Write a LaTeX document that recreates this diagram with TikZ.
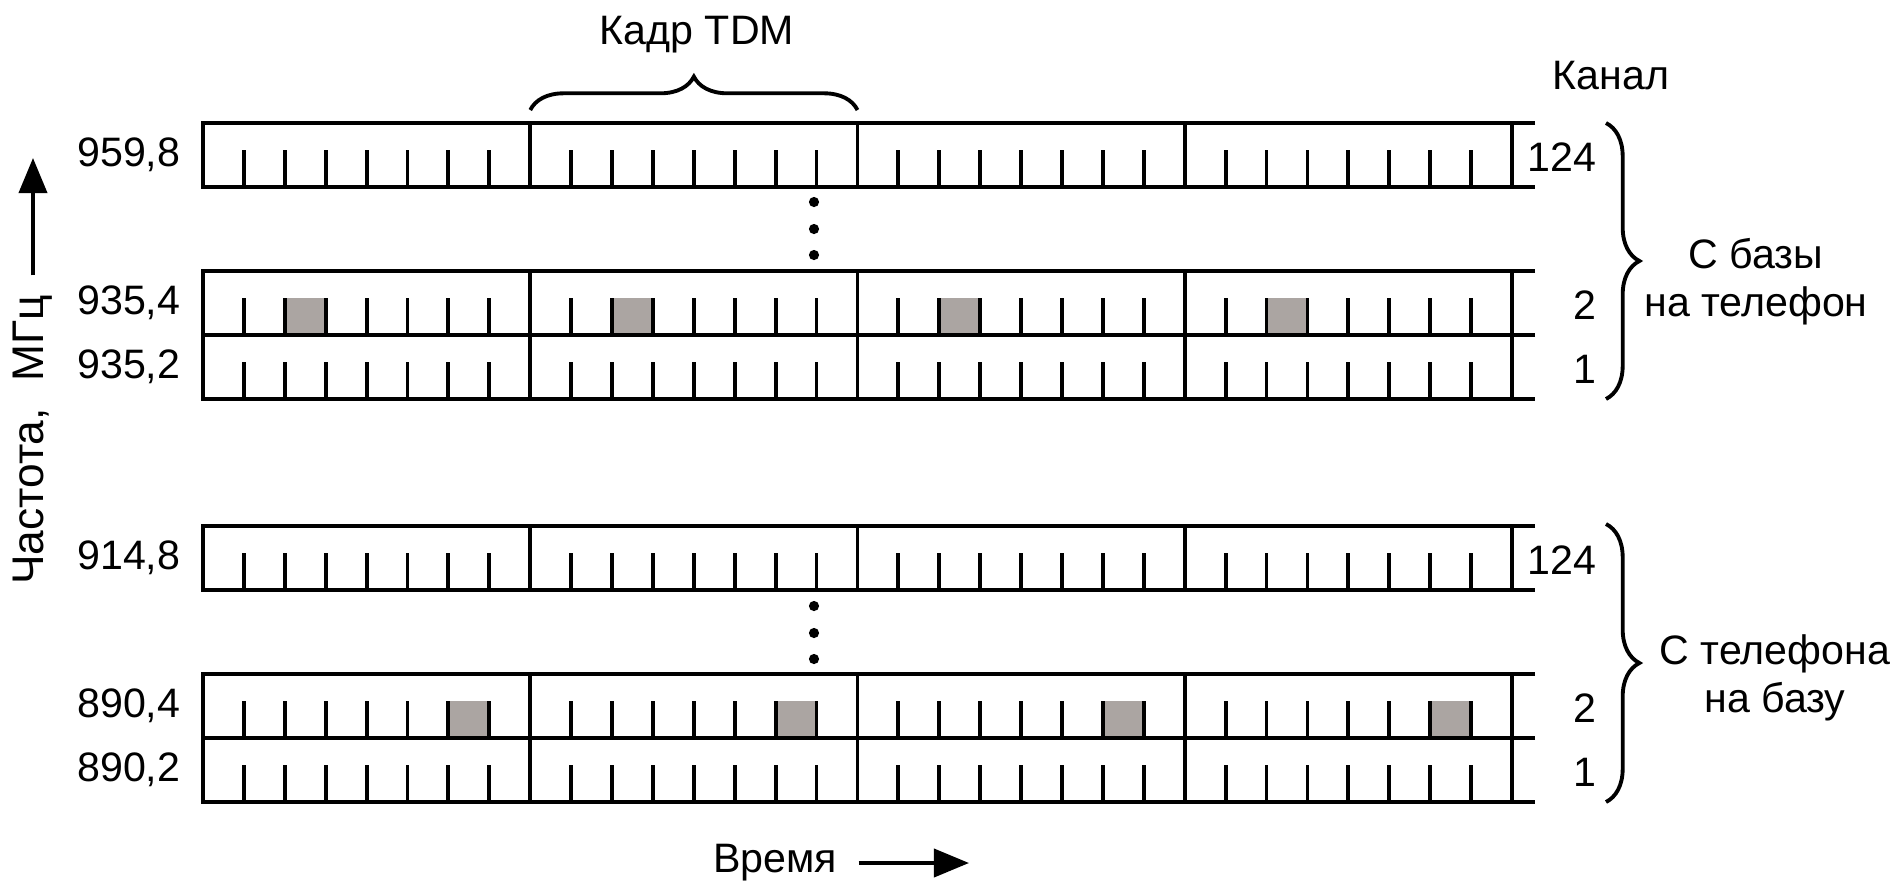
\documentclass[tikz,border=0pt]{standalone}
\usepackage{fontspec}
\setmainfont{Liberation Sans}
\usetikzlibrary{arrows.meta,decorations.pathreplacing}

\definecolor{busy}{RGB}{171,165,162}

\tikzstyle{grid}=[line width=1.1pt]
\tikzstyle{txt}=[font=\fontsize{11.7}{13.7}\selectfont, inner sep=0pt]
\tikzstyle{curly}=[line width=1.1pt, decorate, decoration={brace, amplitude=9.5pt}]
\tikzstyle{axis}=[line width=1.1pt, -{Triangle[length=10pt, width=8pt]}]

% one carrier: top edge #1, busy slot #2 (0 = none)
\newcommand{\tdmchannel}[2]{%
  \ifnum#2>0
    \foreach \k in {0,...,3}
      \fill[busy] (203+327.25*\k+40.9*#2-40.9, #1+27) rectangle ++(40.9, 37);
  \fi
  \draw[grid] (1535,#1) -- (203,#1) -- (203,#1+64) -- (1535,#1+64);
  \foreach \k in {1,...,4}
    \draw[grid] (203+327.25*\k,#1) -- ++(0,64);
  \foreach \k in {0,...,3}
    \foreach \j in {1,...,7}
      \draw[grid] (203+327.25*\k+40.9*\j,#1+64) -- ++(0,-37);
}

\begin{document}
\begin{tikzpicture}[x=0.01cm, y=-0.01cm]
  \useasboundingbox (0,0) rectangle (1899,884);

  \tdmchannel{123}{0}
  \tdmchannel{271}{3}
  \tdmchannel{335}{0}
  \tdmchannel{526}{0}
  \tdmchannel{674}{7}
  \tdmchannel{738}{0}

  \foreach \y in {202,229,255,606,633,659}
    \fill (814,\y) circle[radius=1.45pt];

  \node[txt, anchor=east] (f1) at (181,155) {959,8};
  \node[txt, anchor=east] (f2) at (181,303) {935,4};
  \node[txt, anchor=east] (f3) at (181,367) {935,2};
  \node[txt, anchor=east] (f4) at (181,558) {914,8};
  \node[txt, anchor=east] (f5) at (181,706) {890,4};
  \node[txt, anchor=east] (f6) at (181,770) {890,2};

  \node[txt, anchor=east] (c1) at (1597,157) {124};
  \node[txt, anchor=east] (c2) at (1597,305) {2};
  \node[txt, anchor=east] (c3) at (1597,369) {1};
  \node[txt, anchor=east] (c4) at (1597,560) {124};
  \node[txt, anchor=east] (c5) at (1597,708) {2};
  \node[txt, anchor=east] (c6) at (1597,772) {1};

  \node[txt] (kadr)  at (697,35) {Кадр TDM};
  \node[txt] (kanal) at (1611,76) {Канал};
  \coordinate (ka) at (530.25,110);
  \coordinate (kb) at (857.5,110);
  \draw[curly] (ka) -- (kb);

  \coordinate (da) at (1606,123);
  \coordinate (db) at (1606,399);
  \coordinate (ua) at (1606,524);
  \coordinate (ub) at (1606,802);
  \draw[curly] (da) -- (db);
  \draw[curly] (ua) -- (ub);
  \node[txt, align=center] (down) at (1756,282) {С базы\\на телефон};
  \node[txt, align=center] (up)   at (1775,678) {С телефона\\на базу};

  \node[txt] (vremya) at (775,863) {Время};
  \coordinate (tend) at (969,863);
  \draw[axis, shorten <=6pt] (vremya) -- (tend);

  \node[txt, font=\fontsize{12.6}{15}\selectfont, rotate=90] (chastota) at (33,440)
    {Частота,\hspace{0.6em}МГц};
  \coordinate (fend) at (33,158);
  \draw[axis, shorten <=5.5pt] (chastota) -- (fend);
\end{tikzpicture}
\end{document}
